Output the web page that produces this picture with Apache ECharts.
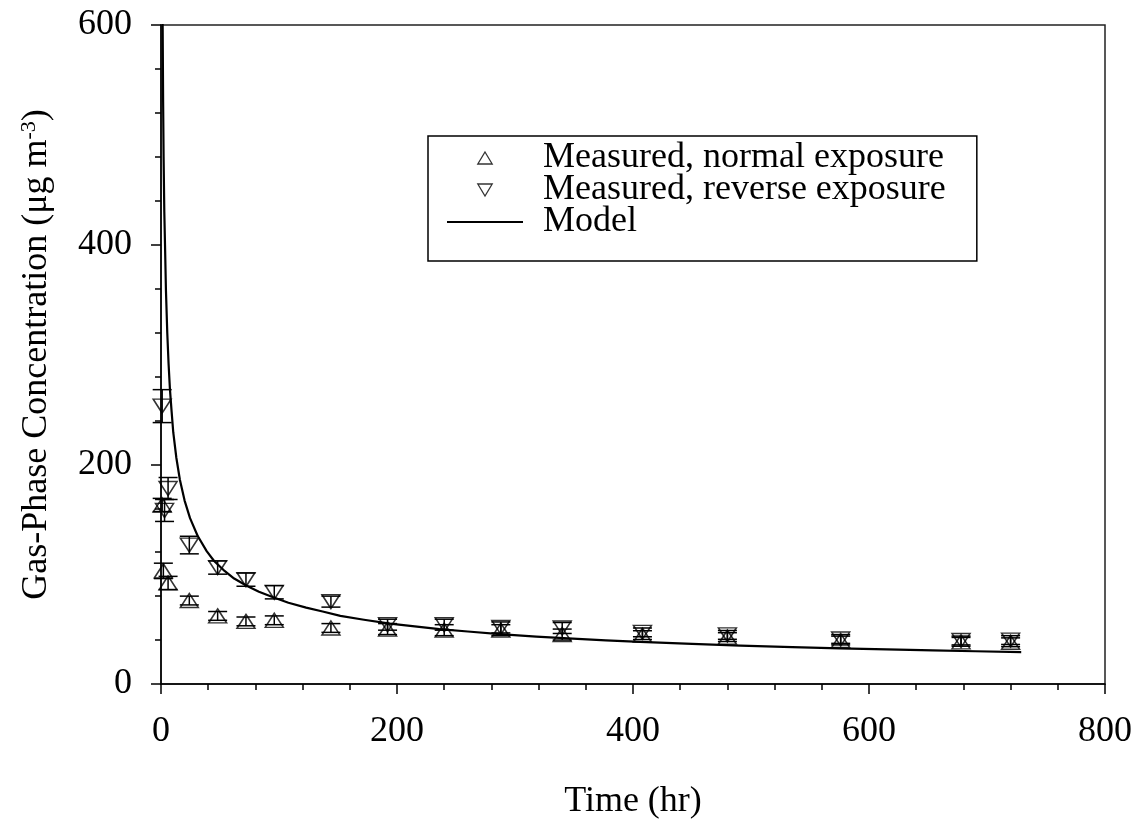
<!DOCTYPE html>
<html>
<head>
<meta charset="utf-8">
<title>Gas-Phase Concentration</title>
<script src="https://cdn.jsdelivr.net/npm/echarts@6/dist/echarts.min.js"></script>
<style>
  html, body { margin: 0; padding: 0; background: #fff; }
  #chart { width: 1139px; height: 825px; }
</style>
</head>
<body>
<div id="chart"></div>
<script>
// measured, normal exposure
var normalTime = [1, 2, 6, 24, 48, 72, 96, 144, 192, 240, 288, 340, 408, 480, 576, 678, 720];
var normalConc = [163, 103, 92, 76, 62, 57, 58, 51, 50, 49, 49, 45, 44.5, 42.7, 39.6, 38.4, 38];
var normalErr = [6, 7, 6, 4, 4, 4, 4, 4, 5, 5, 5, 5, 4, 4, 4, 4, 4];

// measured, reverse exposure
var reverseTime = [1, 3, 6, 24, 48, 72, 96, 144, 192, 240, 288, 340, 408, 480, 576, 678, 720];
var reverseConc = [253, 158, 178, 126.5, 106, 95, 83.5, 75, 54, 54, 51.5, 51, 47, 44.7, 41, 39.6, 40];
var reverseErr = [15, 10, 10, 8, 6, 6, 6, 5, 5, 5, 5, 5, 4, 4, 4, 4, 4];

// model curve
var modelTime = [1.2, 1.4, 1.8, 2.2, 2.8, 3.4, 4.2, 5.3, 6.4, 7.6, 9, 10.4, 13, 16, 20, 24.6, 31, 38.7, 45, 52.8, 62, 72.6, 83, 95, 108, 123, 137, 152, 172, 194, 215, 236, 260, 287, 318, 349, 377, 406, 450, 491, 535, 575, 615, 654, 690, 729];
var modelConc = [650, 600, 530, 480, 430, 400, 358, 320, 292, 268, 248, 229, 206, 186, 167, 151, 135, 121, 112, 104, 96, 89.5, 84, 79, 74, 69.5, 66, 62, 58.5, 55, 52.5, 50, 47.8, 45.4, 43.2, 41.3, 39.8, 38.4, 36.6, 35, 33.6, 32.5, 31.5, 30.6, 29.8, 29];

var xTicks = [0, 200, 400, 600, 800];
var yTicks = [0, 200, 400, 600];

var FONT = '"Liberation Serif", "Times New Roman", serif';

function pairs(xs, ys) {
  var out = [];
  for (var i = 0; i < xs.length; i++) out.push([xs[i], ys[i]]);
  return out;
}
function errRows(xs, ys, es) {
  var out = [];
  for (var i = 0; i < xs.length; i++) out.push([xs[i], ys[i] - es[i], ys[i] + es[i]]);
  return out;
}

function renderErr(params, api) {
  var x = api.value(0);
  var lo = api.coord([x, api.value(1)]);
  var hi = api.coord([x, api.value(2)]);
  var hw = 9.5;
  var st = { stroke: '#000', lineWidth: 1.5 };
  return {
    type: 'group',
    children: [
      { type: 'line', shape: { x1: lo[0], y1: lo[1], x2: hi[0], y2: hi[1] }, style: st },
      { type: 'line', shape: { x1: lo[0] - hw, y1: lo[1], x2: lo[0] + hw, y2: lo[1] }, style: st },
      { type: 'line', shape: { x1: hi[0] - hw, y1: hi[1], x2: hi[0] + hw, y2: hi[1] }, style: st }
    ]
  };
}

var hollow = { color: 'rgba(0,0,0,0)', borderColor: '#000', borderWidth: 1.3 };

var myChart = echarts.init(document.getElementById('chart'));
var option = {
  backgroundColor: '#fff',
  animation: false,
  grid: {
    left: 161, right: 34, top: 25, bottom: 139,
    show: true, borderColor: '#222', borderWidth: 1.5
  },
  legend: {
    orient: 'vertical',
    left: 428, top: 136,
    padding: [4, 31, 21, 19],
    itemGap: -4,
    itemWidth: 76,
    itemHeight: 12,
    symbolKeepAspect: true,
    borderColor: '#000',
    borderWidth: 1.5,
    backgroundColor: '#fff',
    textStyle: { fontFamily: FONT, fontSize: 36, color: '#000', padding: [0, 0, 0, 15] },
    data: [
      { name: 'Measured, normal exposure', icon: 'path://M6,0L12,10L0,10Z', itemStyle: hollow },
      { name: 'Measured, reverse exposure', icon: 'path://M0,0L12,0L6,10Z', itemStyle: hollow },
      { name: 'Model', icon: 'path://M0,0H76V2H0Z', itemStyle: { color: '#000', borderWidth: 0 } }
    ]
  },
  xAxis: {
    type: 'value', min: 0, max: 800, interval: 200,
    name: 'Time (hr)', nameLocation: 'middle', nameGap: 100,
    nameTextStyle: { fontFamily: FONT, fontSize: 36, color: '#000' },
    axisLine: { lineStyle: { color: '#000', width: 1.5 } },
    axisTick: { length: 10, lineStyle: { color: '#000', width: 1.5 } },
    minorTick: { show: true, splitNumber: 5, length: 6, lineStyle: { color: '#000', width: 1.5 } },
    splitLine: { show: false },
    axisLabel: {
      margin: 30, fontFamily: FONT, fontSize: 36, color: '#000',
      formatter: function (v) { return xTicks.indexOf(v) >= 0 ? String(v) : ''; }
    }
  },
  yAxis: {
    type: 'value', min: 0, max: 600, interval: 200,
    name: '{a|Gas-Phase Concentration (\u03bcg m}{s|-3}{a|)}',
    nameLocation: 'middle', nameGap: 105, nameRotate: 90,
    nameTextStyle: {
      fontFamily: FONT, fontSize: 36, color: '#000',
      rich: {
        a: { fontFamily: FONT, fontSize: 36, color: '#000' },
        s: { fontFamily: FONT, fontSize: 22, color: '#000', padding: [0, 0, 16, 0] }
      }
    },
    axisLine: { lineStyle: { color: '#000', width: 1.5 } },
    axisTick: { length: 10, lineStyle: { color: '#000', width: 1.5 } },
    minorTick: { show: true, splitNumber: 5, length: 6, lineStyle: { color: '#000', width: 1.5 } },
    splitLine: { show: false },
    axisLabel: {
      margin: 29, fontFamily: FONT, fontSize: 36, color: '#000',
      formatter: function (v) { return yTicks.indexOf(v) >= 0 ? String(v) : ''; }
    }
  },
  series: [
    {
      name: 'Model', type: 'line', symbol: 'none',
      smooth: false, clip: true,
      lineStyle: { color: '#000', width: 2.2, join: 'round' },
      itemStyle: { color: '#000' },
      data: pairs(modelTime, modelConc), z: 2
    },
    {
      name: 'normalErr', type: 'custom', renderItem: renderErr,
      data: errRows(normalTime, normalConc, normalErr), z: 3
    },
    {
      name: 'reverseErr', type: 'custom', renderItem: renderErr,
      data: errRows(reverseTime, reverseConc, reverseErr), z: 3
    },
    {
      name: 'Measured, normal exposure', type: 'scatter',
      symbol: 'triangle', symbolSize: [18, 14],
      itemStyle: { color: 'rgba(0,0,0,0)', borderColor: '#000', borderWidth: 1.5 },
      data: pairs(normalTime, normalConc), z: 4
    },
    {
      name: 'Measured, reverse exposure', type: 'scatter',
      symbol: 'triangle', symbolRotate: 180, symbolSize: [18, 14],
      itemStyle: { color: 'rgba(0,0,0,0)', borderColor: '#000', borderWidth: 1.5 },
      data: pairs(reverseTime, reverseConc), z: 4
    }
  ]
};
myChart.setOption(option);
</script>
</body>
</html>
